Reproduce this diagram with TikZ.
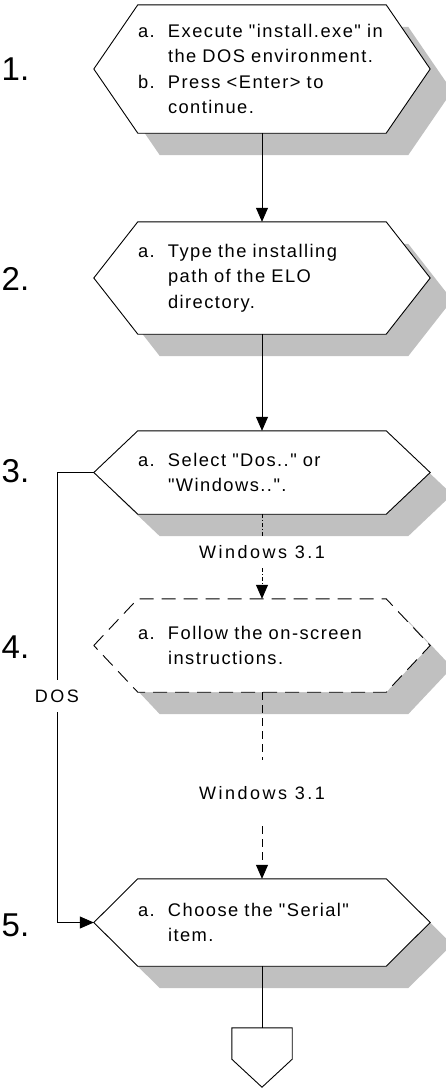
\documentclass[tikz,border=0pt]{standalone}
\usepackage{fontspec}
\setmainfont{Liberation Sans}
\newfontfamily\txtf[LetterSpace=8]{Liberation Sans}
\newfontfamily\lblf[LetterSpace=14]{Liberation Sans}
\newfontfamily\numf{Liberation Sans}
\usetikzlibrary{arrows.meta,backgrounds}
\definecolor{shadowgray}{RGB}{192,192,192}
\tikzset{
  hexbox/.style={minimum width=336pt, text width=248pt, align=left, inner sep=0pt,
    font=\txtf\fontsize{18.3}{25.5}\selectfont},
  lbl/.style={inner sep=0pt, font=\lblf\fontsize{18}{20}\selectfont},
  num/.style={anchor=west, inner sep=0pt, font=\numf\fontsize{33}{36}\selectfont},
  hexpath/.style={insert path={(#1.west) -- ([xshift=44pt]#1.north west) -- ([xshift=-44pt]#1.north east) -- (#1.east) -- ([xshift=-44pt]#1.south east) -- ([xshift=44pt]#1.south west) -- cycle}},
  shadowpath/.style={insert path={([shift={(22pt,-22pt)}]#1.west) -- ([shift={(66pt,-22pt)}]#1.north west) -- ([shift={(-22pt,-22pt)}]#1.north east) -- ([shift={(22pt,-22pt)}]#1.east) -- ([shift={(-22pt,-22pt)}]#1.south east) -- ([shift={(66pt,-22pt)}]#1.south west) -- cycle}},
  arr/.style={-{Triangle[length=14pt,width=12pt]}},
  conn/.style={line width=0.8pt},
  dashdotline/.style={dash pattern=on 4pt off 2pt on 1pt off 2pt},
  longdash/.style={dash pattern=on 8pt off 5pt},
  hexdash/.style={dash pattern=on 14pt off 8pt},
}
\begin{document}
\begin{tikzpicture}[x=1pt,y=-1pt]
\useasboundingbox (0,0) rectangle (445,1088);

% hexagon nodes (text)
\node[hexbox, minimum height=128pt] (h1) at (262,69)
  {\makebox[30pt][l]{a.}Execute "install.exe" in\\\hspace*{30pt}the DOS environment.\\\makebox[30pt][l]{b.}Press <Enter> to\\\hspace*{30pt}continue.};
\node[hexbox, minimum height=112pt] (h2) at (262,278)
  {\makebox[30pt][l]{a.}Type the installing\\\hspace*{30pt}path of the ELO\\\hspace*{30pt}directory.};
\node[hexbox, minimum height=83pt] (h3) at (262,472.5)
  {\makebox[30pt][l]{a.}Select "Dos.." or\\\hspace*{30pt}"Windows..".};
\node[hexbox, minimum height=93pt] (h4) at (262,645.5)
  {\makebox[30pt][l]{a.}Follow the on-screen\\\hspace*{30pt}instructions.};
\node[hexbox, minimum height=87pt] (h5) at (262,922.5)
  {\makebox[30pt][l]{a.}Choose the "Serial"\\\hspace*{30pt}item.};

% off-page connector
\node[minimum width=60pt, minimum height=59pt, inner sep=0pt] (off) at (262,1057.5) {};

% step numbers
\node[num] (n1) at (1.5,69) {1.};
\node[num] (n2) at (1.5,279) {2.};
\node[num] (n3) at (1.5,471) {3.};
\node[num] (n4) at (1.5,647) {4.};
\node[num] (n5) at (1.5,925) {5.};

% connector labels
\node[lbl, minimum height=31pt] (w1) at (262,552.5) {Windows 3.1};
\node[lbl, minimum height=66pt] (w2) at (262,793) {Windows 3.1};
\node[lbl, minimum height=32pt] (dos) at (57,696) {DOS};

% shapes behind text
\begin{pgfonlayer}{background}
  \foreach \n in {h1,h2,h3,h5} {
    \fill[shadowgray, shadowpath=\n];
    \draw[line width=0.9pt, fill=white, hexpath=\n];
  }
  \fill[shadowgray, shadowpath=h4];
  \draw[line width=0.9pt, fill=white, hexdash, hexpath=h4];
  \draw[line width=0.9pt] (off.north west) -- (off.north east) -- ([yshift=28pt]off.south east) -- (off.south) -- ([yshift=28pt]off.south west) -- cycle;
\end{pgfonlayer}

% connectors
\draw[conn, arr] (h1.south) -- (h2.north);
\draw[conn, arr] (h2.south) -- (h3.north);
\draw[conn, dashdotline] (h3.south) -- (w1.north);
\draw[conn, dashdotline, arr] (w1.south) -- (h4.north);
\draw[conn, longdash] (h4.south) -- (w2.north);
\draw[conn, longdash, arr] (w2.south) -- (h5.north);
\draw[conn] (h3.west) -| (dos.north);
\draw[conn, arr] (dos.south) |- (h5.west);
\draw[conn] (h5.south) -- (off.north);
\end{tikzpicture}
\end{document}
